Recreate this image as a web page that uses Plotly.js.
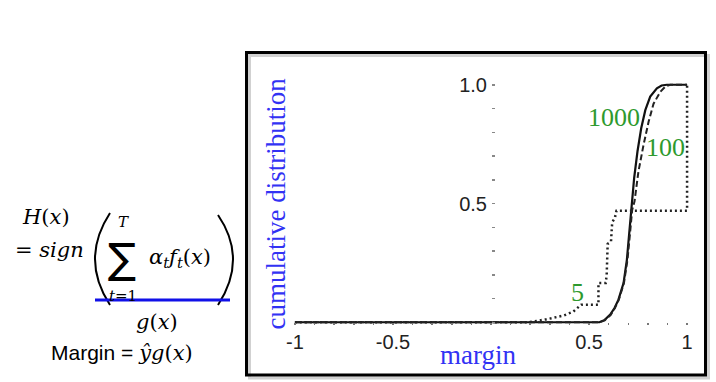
<!DOCTYPE html>
<html>
<head>
<meta charset="utf-8">
<script src="https://cdn.plot.ly/plotly-3.0.1.min.js"></script>
<style>html,body{margin:0;padding:0;background:#fff;}#chart{width:716px;height:382px;}</style>
</head>
<body>
<div id="chart"></div>
<script>
// ---- data ----
const x1000 = [-1, 0.553, 0.58, 0.608, 0.63, 0.65, 0.676, 0.693, 0.705, 0.715, 0.724, 0.730, 0.747, 0.766, 0.787, 0.812, 0.846, 0.87, 0.897, 1.0];
const y1000 = [0, 0, 0.01, 0.032, 0.06, 0.095, 0.165, 0.263, 0.375, 0.473, 0.53, 0.607, 0.719, 0.817, 0.893, 0.95, 0.985, 0.997, 1.0, 1.0];
const x100 = [-1, 0.553, 0.58, 0.61, 0.632, 0.652, 0.678, 0.696, 0.709, 0.72, 0.732, 0.752, 0.778, 0.804, 0.829, 0.863, 0.89, 0.914, 1.0];
const y100 = [0, 0, 0.008, 0.03, 0.06, 0.095, 0.165, 0.263, 0.375, 0.473, 0.509, 0.635, 0.747, 0.845, 0.92, 0.97, 0.993, 1.0, 1.0];
const x5 = [-1, 0.19, 0.28, 0.37, 0.42, 0.46, 0.548, 0.548, 0.585, 0.59, 0.595, 0.612, 0.618, 0.632, 0.64, 1.0, 1.0];
const y5 = [0, 0, 0.012, 0.028, 0.045, 0.074, 0.074, 0.165, 0.165, 0.2, 0.33, 0.34, 0.42, 0.44, 0.47, 0.47, 1.0];
const seriesLabels = ["1000", "100", "5"];
const labelX = [0.628, 0.888, 0.439];
const labelY = [0.863, 0.737, 0.125];
const xTickVals = [-1, -0.5, 0.5, 1];
const xTickText = ["-1", "-0.5", "0.5", "1"];
const yTickVals = [0.5, 1.0];
const yTickText = ["0.5", "1.0"];

// ---- layout helpers (pixel -> paper) ----
const ML = 291, MR = 25, MT = 80, MB = 55, W = 716, H = 382;
const PW = W - ML - MR, PH = H - MT - MB;
const PX = p => (p - ML) / PW;
const PY = p => (H - MB - p) / PH;

const blue = '#3232f4';
const green = '#2e9a2e';
const serif = 'Liberation Serif, Times New Roman, serif';
const mathFont = 'DejaVu Serif, serif';

const traces = [
  {x: x1000, y: y1000, mode: 'lines', line: {color: '#111', width: 2.2}, name: seriesLabels[0], cliponaxis: false},
  {x: x100, y: y100, mode: 'lines', line: {color: '#222', width: 2, dash: '6px,3px'}, name: seriesLabels[1], cliponaxis: false},
  {x: x5, y: y5, mode: 'lines', line: {color: '#222', width: 2.5, dash: '2px,3px'}, name: seriesLabels[2], cliponaxis: false}
];

function ann(text, xp, yp, size, opts) {
  return Object.assign({text: text, xref: 'paper', yref: 'paper', x: PX(xp), y: PY(yp),
    xanchor: 'center', yanchor: 'middle', showarrow: false,
    font: {family: mathFont, size: size, color: '#000'}}, opts || {});
}

const annotations = [
  // series labels in data coords
  ...seriesLabels.map((t, i) => ({text: t, x: labelX[i], y: labelY[i], xref: 'x', yref: 'y',
    showarrow: false, font: {family: serif, size: 26, color: green}})),
  // axis titles
  ann('margin', 478, 355, 27, {font: {family: serif, size: 27, color: blue}}),
  ann('cumulative distribution', 275, 203.5, 27, {textangle: -90, font: {family: serif, size: 27, color: blue}}),
  // equation
  ann('<i>H</i>(<i>x</i>)', 46, 217, 21),
  ann('= <i>sign</i>', 49, 250, 21),
  ann('\u2211', 122, 258, 42, {font: {family: 'DejaVu Sans, sans-serif', size: 42, color: '#000'}}),
  ann('<i>T</i>', 123, 222, 15),
  ann('<i>t</i>=1', 123, 296, 15),
  ann('<i>α</i><sub><i>t</i></sub><i>f</i><sub><i>t</i></sub>(<i>x</i>)', 180, 258, 21),
  ann('<i>g</i>(<i>x</i>)', 157, 322, 21),
  ann('<span style="font-family:Liberation Sans">Margin = </span><i>ŷg</i>(<i>x</i>)', 122, 353, 21)
];

const shapes = [
  // shadow of frame
  {type: 'rect', xref: 'paper', yref: 'paper', x0: PX(249.5), x1: PX(708.5), y0: PY(378), y1: PY(55.5),
    line: {color: 'rgba(0,0,0,0.18)', width: 3}, layer: 'below'},
  // frame
  {type: 'rect', xref: 'paper', yref: 'paper', x0: PX(246.5), x1: PX(705.5), y0: PY(375), y1: PY(52.5),
    line: {color: '#000', width: 3}, layer: 'below'},
  // parentheses
  {type: 'path', xref: 'paper', yref: 'paper',
    path: `M ${PX(110)},${PY(213)} Q ${PX(80)},${PY(259)} ${PX(110)},${PY(305)}`,
    line: {color: '#000', width: 2}},
  {type: 'path', xref: 'paper', yref: 'paper',
    path: `M ${PX(218)},${PY(215)} Q ${PX(248)},${PY(259)} ${PX(218)},${PY(305)}`,
    line: {color: '#000', width: 2}},
  // blue underline
  {type: 'line', xref: 'paper', yref: 'paper', x0: PX(95), x1: PX(230), y0: PY(300), y1: PY(300),
    line: {color: '#1010e8', width: 3}}
];

const yr = [-0.02, 1.02];
const layout = {
  width: W, height: H,
  margin: {l: ML, r: MR, t: MT, b: MB, pad: 0},
  paper_bgcolor: '#fff', plot_bgcolor: '#fff',
  showlegend: false,
  xaxis: {range: [-1.02, 1.02], showgrid: false, zeroline: false, showline: false,
    tickmode: 'array', tickvals: xTickVals, ticktext: xTickText,
    ticks: 'outside', ticklen: 2, tickwidth: 1.5, tickcolor: '#777',
    minor: {dtick: 0.1, tick0: 0, ticks: 'outside', ticklen: 2, tickwidth: 1.5, tickcolor: '#777'},
    anchor: 'free', position: (0 - yr[0]) / (yr[1] - yr[0]),
    tickfont: {family: 'Liberation Sans, Arial, sans-serif', size: 20, color: '#222'}, fixedrange: true},
  yaxis: {range: yr, showgrid: false, zeroline: false, showline: false,
    tickmode: 'array', tickvals: yTickVals, ticktext: yTickText,
    ticks: 'inside', ticklen: 3, tickwidth: 1.5, tickcolor: '#888', ticklabelstandoff: 4,
    minor: {dtick: 0.1, tick0: 0, ticks: 'inside', ticklen: 3, tickwidth: 1.5, tickcolor: '#888'},
    anchor: 'free', position: 0.5,
    tickfont: {family: 'Liberation Sans, Arial, sans-serif', size: 20, color: '#222'}, fixedrange: true},
  annotations: annotations,
  shapes: shapes
};

Plotly.newPlot('chart', traces, layout, {staticPlot: true, displayModeBar: false});
</script>
</body>
</html>
